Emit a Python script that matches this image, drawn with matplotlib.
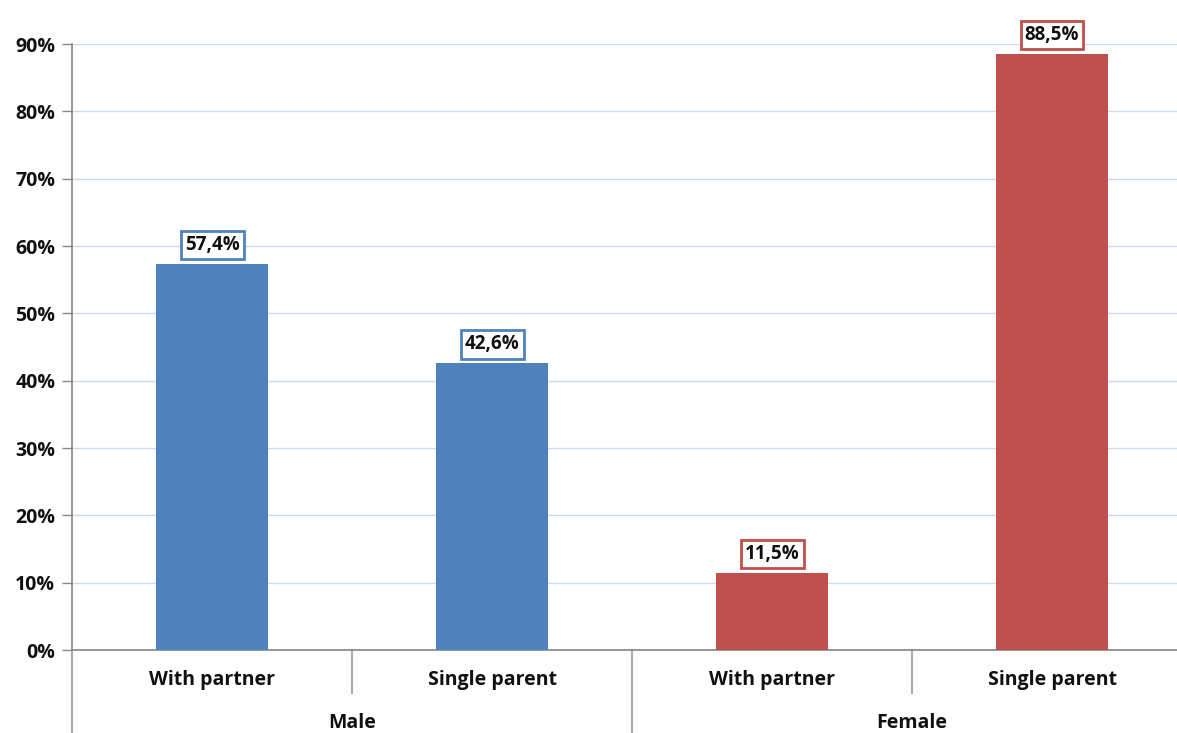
import matplotlib
matplotlib.use("Agg")
import matplotlib.pyplot as plt
from matplotlib.ticker import FuncFormatter

groups = ["Male", "Female"]
subcategories = ["With partner", "Single parent"]
values = [57.4, 42.6, 11.5, 88.5]
colors = ["#4F81BD", "#4F81BD", "#C0504D", "#C0504D"]
yticks = [0, 10, 20, 30, 40, 50, 60, 70, 80, 90]

W, H = 1177, 733
fig = plt.figure(figsize=(W / 100, H / 100), dpi=100)
# plot area: left 72px, top 44px, bottom 650px; right edge runs past the canvas
left, right, top, bottom = 72, 1192, 44, 650
ax = fig.add_axes([left / W, 1 - bottom / H, (right - left) / W, (bottom - top) / H])

font = ["Open Sans", "DejaVu Sans"]
x = list(range(len(values)))
ax.bar(x, values, width=0.4, color=colors, zorder=3)

ax.set_xlim(-0.5, len(values) - 0.5)
ax.set_ylim(0, 90)
ax.set_yticks(yticks)
ax.yaxis.set_major_formatter(FuncFormatter(lambda v, p: f"{int(v)}%"))
for lbl in ax.get_yticklabels():
    lbl.set_fontfamily(font)
    lbl.set_fontweight("bold")
    lbl.set_fontsize(14)
    lbl.set_color("#111111")
ax.tick_params(axis="y", length=7, width=1, color="#868686", pad=5)
ax.set_xticks([])
ax.grid(axis="y", color="#CDD8EE", linewidth=1, zorder=0)
ax.axhline(90, color="#9BB1DA", linewidth=1.2, zorder=1)

for s in ["top", "right"]:
    ax.spines[s].set_visible(False)
for s in ["left", "bottom"]:
    ax.spines[s].set_color("#868686")
    ax.spines[s].set_linewidth(1.2)

# value labels in boxes
for xi, v, c in zip(x, values, colors):
    ax.annotate(f"{v:.1f}%".replace(".", ","), (xi, v), xytext=(0, 13.5),
                textcoords="offset points", ha="center", va="center",
                fontsize=13.5, fontweight="bold", family=font, color="#111111",
                bbox=dict(boxstyle="square,pad=0.22", fc="white", ec=c, lw=2),
                zorder=5)

# two-level category axis
trans = ax.get_xaxis_transform()
px = 1 / (bottom - top)
for i, xi in enumerate(x):
    ax.text(xi, -30 * px, subcategories[i % 2], transform=trans, ha="center",
            va="center", fontsize=14, fontweight="bold", family=font,
            color="#111111", clip_on=False)
for g, name in enumerate(groups):
    ax.text(2 * g + 0.5, -73 * px, name, transform=trans, ha="center",
            va="center", fontsize=14, fontweight="bold", family=font,
            color="#111111", clip_on=False)

# separators between subcategories and between groups
for b in [0.5, 2.5]:
    ax.plot([b, b], [0, -43 * px], transform=trans, color="#ABABAB", lw=1.5, clip_on=False)
for b in [-0.5, 1.5]:
    ax.plot([b, b], [0, -90 * px], transform=trans, color="#ABABAB", lw=1.5, clip_on=False)

fig.savefig("out.png", dpi=100)
